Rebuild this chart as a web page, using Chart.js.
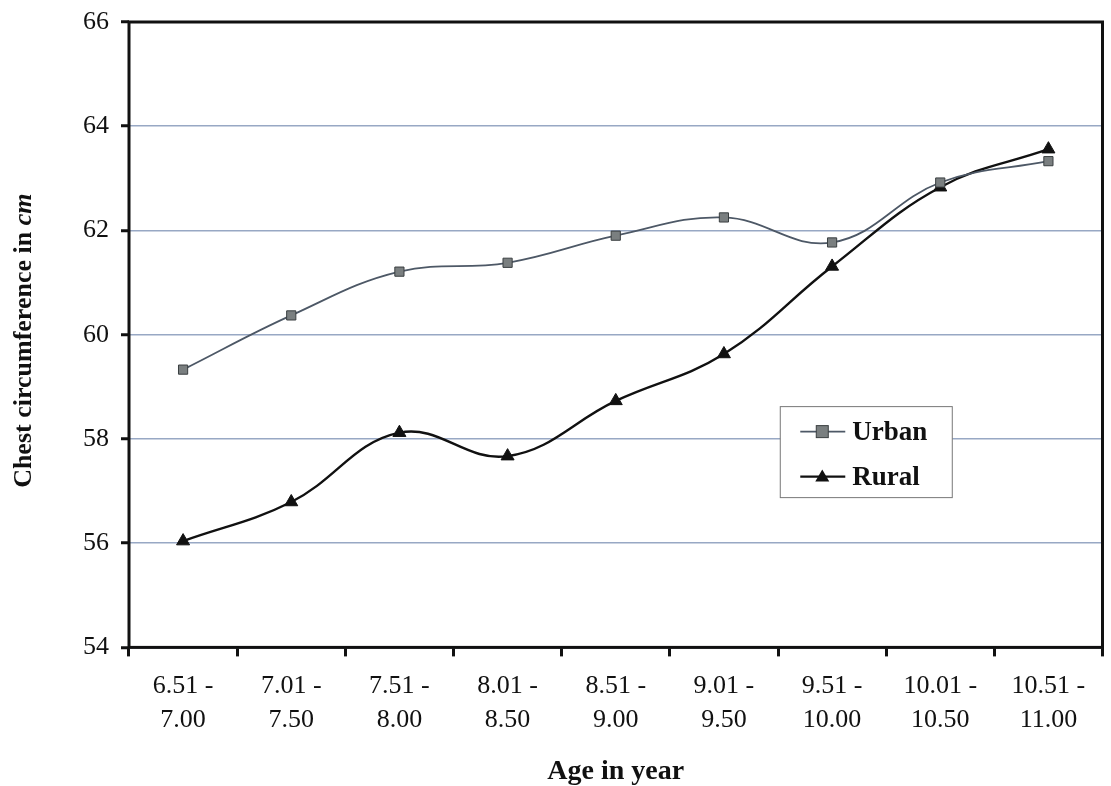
<!DOCTYPE html>
<html>
<head>
<meta charset="utf-8">
<script src="https://cdn.jsdelivr.net/npm/chart.js@4.4.1/dist/chart.umd.min.js"></script>
<style>
  html, body { margin: 0; padding: 0; background: #fff; overflow: hidden; }
</style>
</head>
<body>
<canvas id="chest-chart" width="1111" height="786"></canvas>
<script>
const ageGroups = [
    ["6.51 -", "7.00"], ["7.01 -", "7.50"], ["7.51 -", "8.00"],
    ["8.01 -", "8.50"], ["8.51 -", "9.00"], ["9.01 -", "9.50"],
    ["9.51 -", "10.00"], ["10.01 -", "10.50"], ["10.51 -", "11.00"]
];
const urban = [59.33, 60.37, 61.21, 61.38, 61.90, 62.25, 61.77, 62.92, 63.33];
const rural = [56.04, 56.79, 58.12, 57.67, 58.73, 59.63, 61.31, 62.83, 63.56];
const yTicks = [54, 56, 58, 60, 62, 64, 66];

const serif = "'Liberation Serif', 'DejaVu Serif', serif";

// frame round the plot, y title with italic "cm", and the boxed legend inside the plot
const decorations = {
    id: "decorations",
    afterDraw(chart) {
        const ctx = chart.ctx;
        const a = chart.chartArea;
        ctx.save();
        ctx.strokeStyle = "#111";
        ctx.lineWidth = 3;
        ctx.strokeRect(a.left, a.top, a.right - a.left, a.bottom - a.top);

        // y title
        ctx.translate(24, (a.top + a.bottom) / 2 + 6);
        ctx.rotate(-Math.PI / 2);
        ctx.fillStyle = "#111";
        ctx.textBaseline = "middle";
        const part1 = "Chest circumference in ";
        const part2 = "cm";
        ctx.font = "bold 26px " + serif;
        const w1 = ctx.measureText(part1).width;
        ctx.font = "bold italic 26px " + serif;
        const w2 = ctx.measureText(part2).width;
        let x0 = -(w1 + w2) / 2;
        ctx.font = "bold 26px " + serif;
        ctx.textAlign = "left";
        ctx.fillText(part1, x0, 0);
        ctx.font = "bold italic 26px " + serif;
        ctx.fillText(part2, x0 + w1, 0);
        ctx.restore();

        // legend
        const w = a.right - a.left, h = a.bottom - a.top;
        const lx = a.left + w * 0.669, ly = a.top + h * 0.615;
        const bw = 172, bh = 91;
        ctx.save();
        ctx.fillStyle = "#fff";
        ctx.fillRect(lx, ly, bw, bh);
        ctx.strokeStyle = "#777";
        ctx.lineWidth = 1;
        ctx.strokeRect(lx, ly, bw, bh);
        chart.data.datasets.forEach((ds, i) => {
            const cy = ly + 25 + i * 45;
            ctx.strokeStyle = ds.borderColor;
            ctx.lineWidth = ds.borderWidth;
            ctx.beginPath();
            ctx.moveTo(lx + 20, cy);
            ctx.lineTo(lx + 65, cy);
            ctx.stroke();
            ctx.fillStyle = ds.pointBackgroundColor;
            ctx.strokeStyle = ds.pointBorderColor;
            ctx.lineWidth = 1;
            if (ds.pointStyle === "rect") {
                ctx.fillRect(lx + 36, cy - 6, 12, 12);
                ctx.strokeRect(lx + 36, cy - 6, 12, 12);
            } else {
                ctx.beginPath();
                ctx.moveTo(lx + 42, cy - 7);
                ctx.lineTo(lx + 49, cy + 5);
                ctx.lineTo(lx + 35, cy + 5);
                ctx.closePath();
                ctx.fill();
            }
            ctx.fillStyle = "#111";
            ctx.font = "bold 27px " + serif;
            ctx.textAlign = "left";
            ctx.textBaseline = "middle";
            ctx.fillText(ds.label, lx + 72, cy + 1);
        });
        ctx.restore();
    }
};

new Chart(document.getElementById("chest-chart"), {
    type: "line",
    data: {
        labels: ageGroups,
        datasets: [
            {
                label: "Urban",
                data: urban,
                borderColor: "#4d5866",
                borderWidth: 1.8,
                tension: 0.4,
                pointStyle: "rect",
                pointRadius: 6.5,
                pointBackgroundColor: "#7a7f80",
                pointBorderColor: "#3a3f40",
                pointBorderWidth: 1,
            },
            {
                label: "Rural",
                data: rural,
                borderColor: "#111",
                borderWidth: 2.4,
                tension: 0.4,
                pointStyle: "triangle",
                pointRadius: 7.5,
                pointBackgroundColor: "#111",
                pointBorderColor: "#111",
                pointBorderWidth: 1,
            },
        ],
    },
    plugins: [decorations],
    options: {
        responsive: false,
        animation: false,
        layout: {
            padding: { left: 71, right: 4, top: 22, bottom: 0 },
        },
        plugins: {
            legend: { display: false },
            tooltip: { enabled: false },
        },
        scales: {
            x: {
                offset: true,
                afterFit(axis) {
                    axis.paddingLeft = 0;
                    axis.paddingRight = 0;
                },
                grid: {
                    offset: true,
                    drawOnChartArea: false,
                    drawTicks: true,
                    tickLength: 9,
                    tickColor: "#111",
                    tickWidth: 3,
                },
                border: { display: false },
                ticks: {
                    color: "#111",
                    maxRotation: 0,
                    autoSkip: false,
                    padding: 13,
                    font: { family: serif, size: 26, lineHeight: 1.3 },
                },
                title: {
                    display: true,
                    text: "Age in year",
                    color: "#111",
                    padding: { top: 8, bottom: 0 },
                    font: { family: serif, size: 28, weight: "bold", lineHeight: 1.0 },
                },
            },
            y: {
                min: 54,
                max: 66,
                afterBuildTicks(axis) {
                    axis.ticks = yTicks.map((v) => ({ value: v }));
                },
                afterFit(axis) {
                    axis.paddingTop = 0;
                    axis.paddingBottom = 0;
                },
                grid: {
                    color: "#98a8c4",
                    lineWidth: 1.5,
                    tickColor: "#111",
                    tickWidth: 3,
                    tickLength: 8,
                },
                border: { display: false },
                ticks: {
                    color: "#111",
                    padding: 12,
                    font: { family: serif, size: 26 },
                },
            },
        },
    },
});
</script>
</body>
</html>
